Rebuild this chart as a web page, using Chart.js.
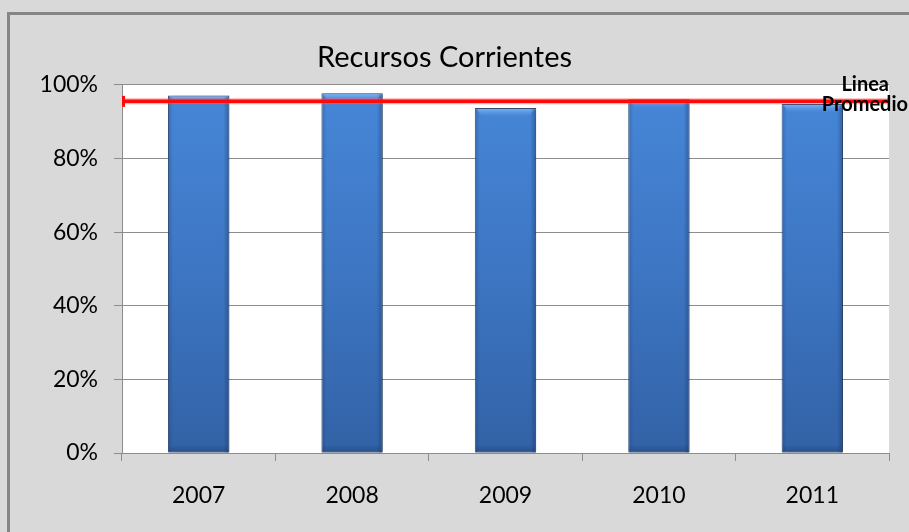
<!DOCTYPE html>
<html>
<head>
<meta charset="utf-8">
<script src="https://cdn.jsdelivr.net/npm/chart.js@4/dist/chart.umd.min.js"></script>
<style>
  html,body{margin:0;padding:0;background:#d9d9d9;}
  #wrap{width:909px;height:532px;}
</style>
</head>
<body>
<div id="wrap"><canvas id="c" width="909" height="532"></canvas></div>
<script>
const categories = ['2007', '2008', '2009', '2010', '2011'];
const recursosCorrientes = [97.1, 97.7, 93.7, 96.1, 94.8];
const promedio = 95.5;
const promedioLabel = ['Linea', 'Promedio'];
const yTicks = [0, 20, 40, 60, 80, 100];
const chartTitle = 'Recursos Corrientes';

const FONT = 'Lato, "Liberation Sans", sans-serif';

const frame = {
  id: 'frame',
  beforeDraw(chart) {
    const {ctx, chartArea: a, width, height} = chart;
    ctx.save();
    ctx.fillStyle = '#d9d9d9';
    ctx.fillRect(0, 0, width, height);
    ctx.strokeStyle = '#858585';
    ctx.lineWidth = 3;
    ctx.beginPath();
    ctx.moveTo(8.5, height + 2);
    ctx.lineTo(8.5, 13.5);
    ctx.lineTo(width + 2, 13.5);
    ctx.stroke();
    ctx.fillStyle = '#ffffff';
    ctx.fillRect(a.left, a.top, a.right - a.left, a.bottom - a.top);
    ctx.restore();
  }
};

// soft shadow behind the bars
const barShadow = {
  id: 'barShadow',
  beforeDatasetsDraw(chart) {
    const ctx = chart.ctx;
    ctx.save();
    ctx.shadowColor = 'rgba(0,0,0,0.28)';
    ctx.shadowBlur = 5;
    ctx.shadowOffsetX = 3;
    ctx.shadowOffsetY = 1;
  },
  afterDatasetsDraw(chart) {
    chart.ctx.restore();
    // bevel highlights on each bar element
    const ctx = chart.ctx;
    const meta = chart.getDatasetMeta(0);
    ctx.save();
    meta.data.forEach(bar => {
      const l = bar.x - bar.width / 2, r = bar.x + bar.width / 2, t = bar.y, b = bar.base;
      const g = ctx.createLinearGradient(0, t, 0, t + 9);
      g.addColorStop(0, 'rgba(140,190,250,0.9)');
      g.addColorStop(1, 'rgba(90,150,230,0)');
      ctx.fillStyle = g;
      ctx.beginPath();
      ctx.moveTo(l + 1, t + 1);
      ctx.lineTo(r - 1, t + 1);
      ctx.lineTo(r - 8, t + 9);
      ctx.lineTo(l + 8, t + 9);
      ctx.closePath();
      ctx.fill();
      const gr = ctx.createLinearGradient(r - 6, 0, r, 0);
      gr.addColorStop(0, 'rgba(20,50,100,0)');
      gr.addColorStop(1, 'rgba(20,50,100,0.45)');
      ctx.fillStyle = gr;
      ctx.fillRect(r - 6, t + 1, 5, b - t - 1);
      const gl = ctx.createLinearGradient(l, 0, l + 5, 0);
      gl.addColorStop(0, 'rgba(20,50,100,0.3)');
      gl.addColorStop(1, 'rgba(20,50,100,0)');
      ctx.fillStyle = gl;
      ctx.fillRect(l + 1, t + 1, 5, b - t - 1);
      const gb = ctx.createLinearGradient(0, b - 8, 0, b);
      gb.addColorStop(0, 'rgba(20,45,90,0)');
      gb.addColorStop(1, 'rgba(20,45,90,0.35)');
      ctx.fillStyle = gb;
      ctx.fillRect(l + 1, b - 8, r - l - 2, 8);
    });
    ctx.restore();
  }
};

// Average line ("Linea Promedio"), positioned through the y scale
const averageLine = {
  id: 'averageLine',
  afterDatasetsDraw(chart) {
    const a = chart.chartArea;
    const y = chart.scales.y.getPixelForValue(promedio);
    const ctx = chart.ctx;
    ctx.save();
    ctx.strokeStyle = 'rgba(255,80,80,0.45)';
    ctx.lineWidth = 6;
    ctx.beginPath();
    ctx.moveTo(a.left, y);
    ctx.lineTo(a.right, y);
    ctx.stroke();
    ctx.strokeStyle = '#ff0a0a';
    ctx.lineWidth = 3.5;
    ctx.beginPath();
    ctx.moveTo(a.left, y);
    ctx.lineTo(a.right, y);
    ctx.stroke();
    ctx.lineWidth = 3;
    ctx.beginPath();
    ctx.moveTo(a.left + 1.5, y - 5.5);
    ctx.lineTo(a.left + 1.5, y + 5.5);
    ctx.stroke();
    ctx.fillStyle = '#000000';
    ctx.font = 'bold 20px ' + FONT;
    ctx.textAlign = 'right';
    ctx.textBaseline = 'middle';
    ctx.fillText(promedioLabel[0], 889, y - 17);
    ctx.fillText(promedioLabel[1], 908, y + 3);
    ctx.restore();
  }
};

function barGradient(context) {
  const chart = context.chart;
  const a = chart.chartArea;
  if (!a) return '#3f78c4';
  const g = chart.ctx.createLinearGradient(0, a.top, 0, a.bottom);
  g.addColorStop(0, '#4787d8');
  g.addColorStop(0.5, '#3d76c3');
  g.addColorStop(1, '#3262a6');
  return g;
}

new Chart(document.getElementById('c'), {
  type: 'bar',
  data: {
    labels: categories,
    datasets: [
      {
        label: chartTitle,
        data: recursosCorrientes,
        backgroundColor: barGradient,
        borderColor: 'rgba(30,62,110,0.9)',
        borderWidth: 1,
        borderSkipped: false,
        barPercentage: 0.4,
        categoryPercentage: 1.0
      }
    ]
  },
  options: {
    responsive: false,
    animation: false,
    events: [],
    layout: {padding: {left: 0, right: 20, top: 0, bottom: 0}},
    plugins: {
      legend: {display: false},
      tooltip: {enabled: false},
      title: {
        display: true,
        text: chartTitle,
        color: '#000000',
        font: {family: FONT, size: 29, weight: 'normal'},
        padding: {top: 40, bottom: 10}
      }
    },
    scales: {
      x: {
        type: 'category',
        offset: true,
        grid: {display: true, drawOnChartArea: false, drawTicks: true, tickLength: 8, color: '#8c8c8c', offset: true},
        border: {display: true, color: '#8c8c8c', width: 1},
        ticks: {color: '#000000', font: {family: FONT, size: 23}, padding: 21},
        afterFit(scale) { scale.height = 79; }
      },
      y: {
        min: 0,
        max: 100,
        afterBuildTicks(scale) { scale.ticks = yTicks.map(v => ({value: v})); },
        grid: {color: '#8c8c8c', tickLength: 8, drawTicks: true},
        border: {display: true, color: '#8c8c8c', width: 1},
        ticks: {
          color: '#000000',
          font: {family: FONT, size: 23},
          padding: 16,
          callback: v => v + '%'
        },
        afterFit(scale) { scale.width = 122; }
      }
    }
  },
  plugins: [frame, barShadow, averageLine]
});
</script>
</body>
</html>
